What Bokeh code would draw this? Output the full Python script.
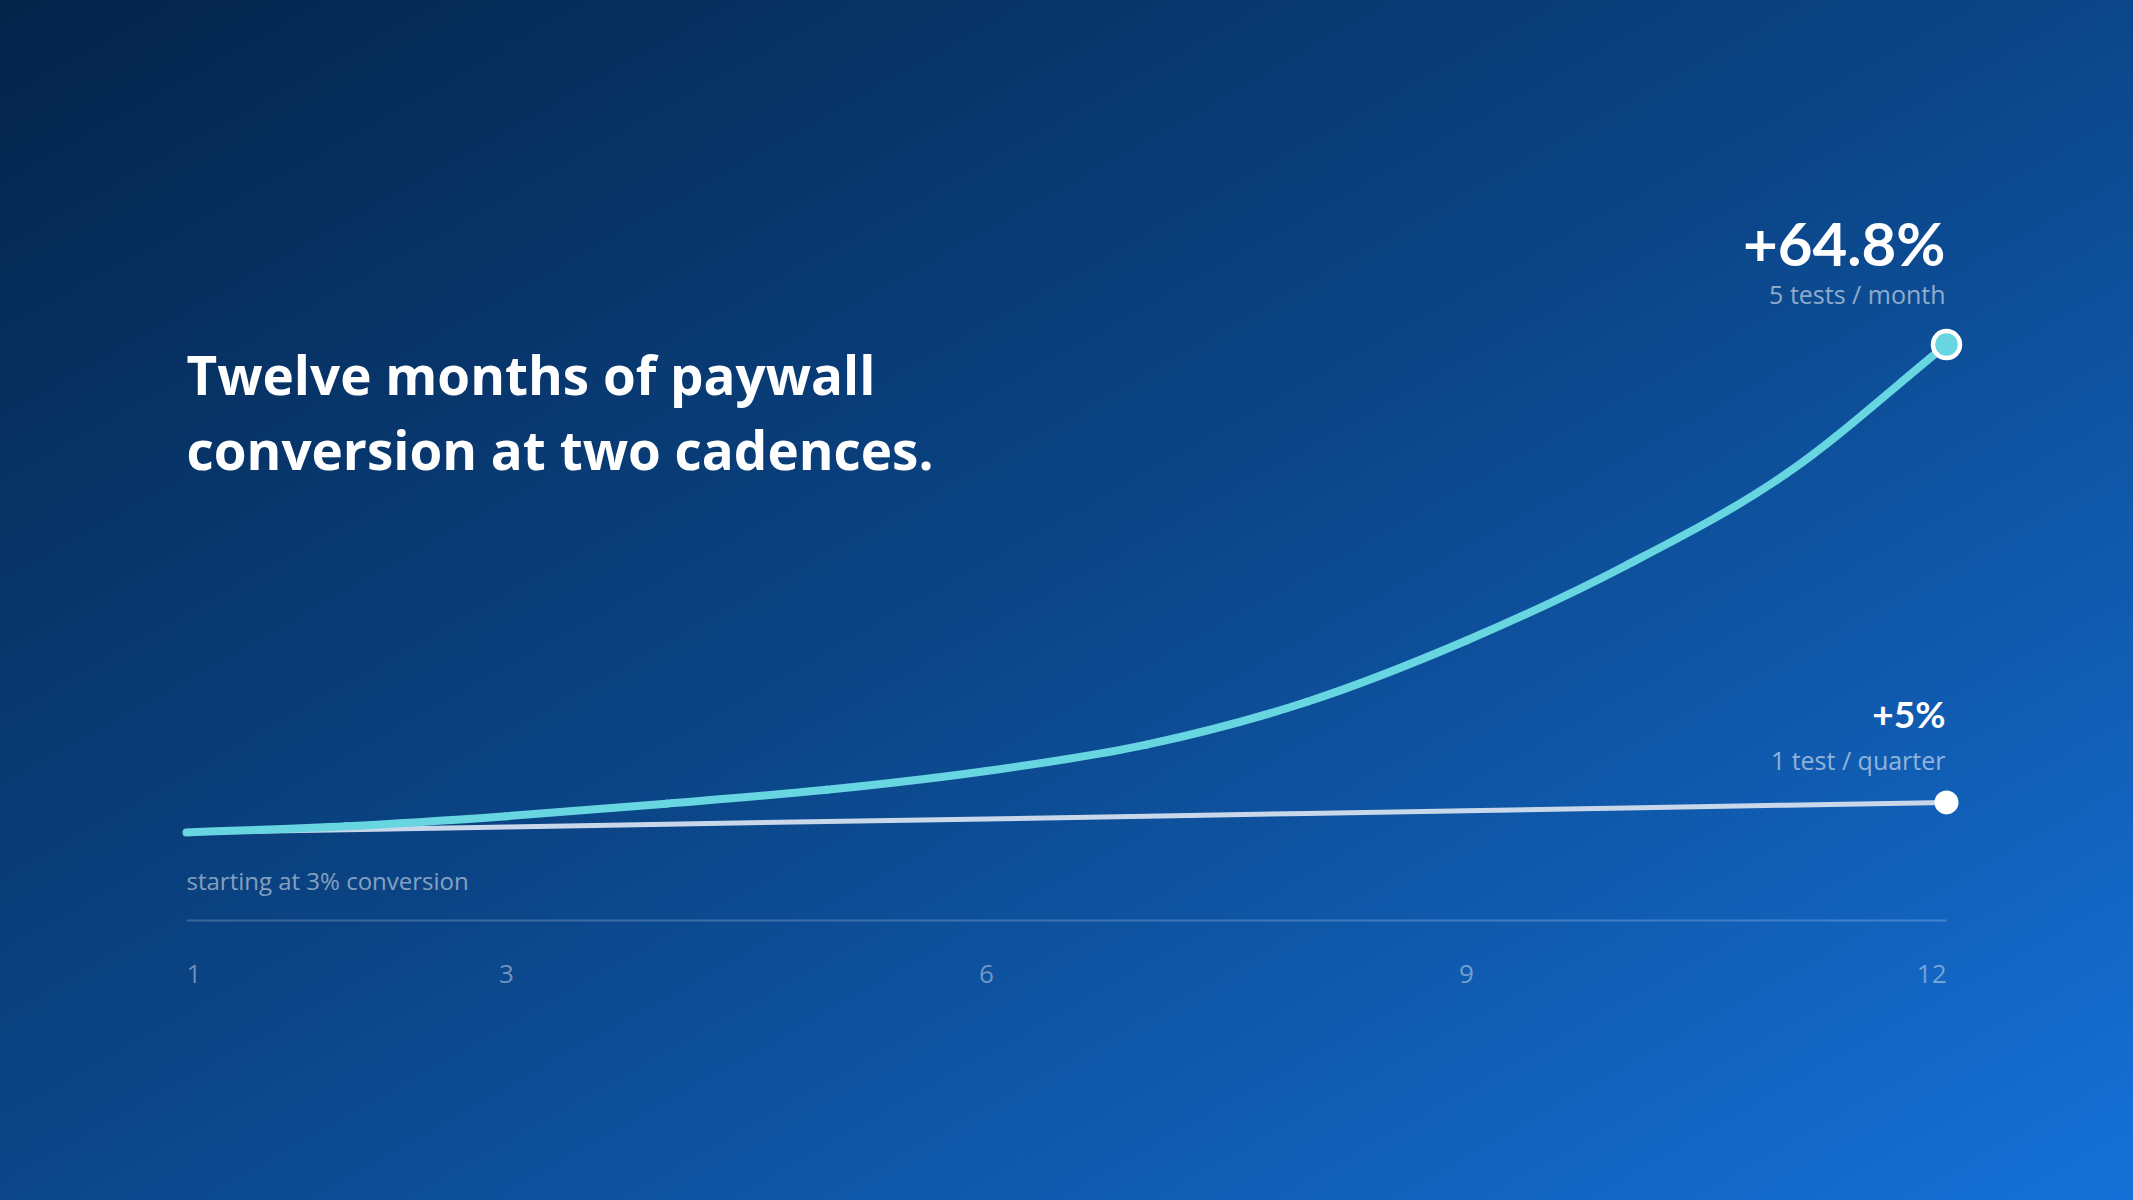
from bokeh.plotting import figure
from bokeh.models import Range1d, Label, BoxAnnotation
from bokeh.embed import file_html
from bokeh.resources import INLINE

# ---- data ----
months = [1, 2, 3, 4, 5, 6, 7, 8, 9, 10, 11, 12]
fast_conv = [3.00, 3.025, 3.065, 3.115, 3.17, 3.245, 3.35, 3.52, 3.765, 4.065, 4.43, 4.944]   # 5 tests / month
slow_conv = [3.000, 3.011, 3.022, 3.033, 3.044, 3.054, 3.065, 3.076, 3.087, 3.098, 3.109, 3.120]  # 1 test / quarter
tick_months = [1, 3, 6, 9, 12]
tick_labels = ["1", "3", "6", "9", "12"]
title_lines = ["Twelve months of paywall", "conversion at two cadences."]
fast_lift = "+64.8%"
fast_name = "5 tests / month"
slow_lift = "+5%"
slow_name = "1 test / quarter"
start_note = "starting at 3% conversion"

# ---- layout ----
W, H = 2133, 1200
X0_PX, PX_PER_MONTH = 186, 160
Y0_PX, PX_PER_PT = 832, 251

x_range = Range1d(1 - X0_PX / PX_PER_MONTH, 1 + (W - X0_PX) / PX_PER_MONTH)
y_range = Range1d(3 - (H - Y0_PX) / PX_PER_PT, 3 + Y0_PX / PX_PER_PT)

p = figure(width=W, height=H, x_range=x_range, y_range=y_range,
           output_backend="svg", toolbar_location=None, min_border=0)
p.axis.visible = False
p.grid.visible = False
p.outline_line_color = None
p.background_fill_alpha = 0
p.border_fill_alpha = 0

NUM_FONT = "Lato"
TXT_FONT = "Open Sans"
CYAN = "#68d6e1"
SLOW = "#c9d7ea"

def sy(y_page):
    # screen y (from bottom of canvas) for a page pixel row
    return H - y_page

# baseline rule
p.add_layout(BoxAnnotation(left=months[0], right=months[-1], bottom=sy(921), top=sy(919),
                           bottom_units="screen", top_units="screen",
                           fill_color="white", fill_alpha=0.2, line_color=None))

# slow line
p.line(months, slow_conv, line_color=SLOW, line_width=5, line_cap="round", line_join="round")

# fast line: smooth curve through the monthly values (Catmull-Rom as cubic Beziers)
n = len(months)
px = [2 * months[0] - months[1]] + months + [2 * months[-1] - months[-2]]
py = [2 * fast_conv[0] - fast_conv[1]] + fast_conv + [2 * fast_conv[-1] - fast_conv[-2]]
x0, y0, x1, y1, cx0, cy0, cx1, cy1 = ([] for _ in range(8))
for i in range(1, n):
    x0.append(px[i]); y0.append(py[i])
    x1.append(px[i + 1]); y1.append(py[i + 1])
    cx0.append(px[i] + (px[i + 1] - px[i - 1]) / 6)
    cy0.append(py[i] + (py[i + 1] - py[i - 1]) / 6)
    cx1.append(px[i + 1] - (px[i + 2] - px[i]) / 6)
    cy1.append(py[i + 1] - (py[i + 2] - py[i]) / 6)
p.bezier(x0=x0, y0=y0, x1=x1, y1=y1, cx0=cx0, cy0=cy0, cx1=cx1, cy1=cy1,
         line_color=CYAN, line_width=8, line_cap="round")

# end dots
p.scatter([months[-1]], [slow_conv[-1]], size=24, fill_color="white", line_color=None)
p.scatter([months[-1]], [fast_conv[-1]], size=27, fill_color=CYAN, line_color="white", line_width=4.5)

# title
for i, t in enumerate(title_lines):
    p.add_layout(Label(x=X0_PX, y=sy(374 + 75 * i), x_units="screen", y_units="screen",
                       text=t, text_font=TXT_FONT, text_font_style="bold", text_font_size="53px",
                       text_color="white", text_align="left", text_baseline="alphabetic"))

# end labels
def end_label(text, y_page, size, font, bold, alpha=1.0):
    p.add_layout(Label(x=months[-1], x_offset=-1, y=sy(y_page), y_units="screen",
                       text=text, text_font=font, text_font_style="bold" if bold else "normal",
                       text_font_size=size, text_color="white", text_alpha=alpha,
                       text_align="right", text_baseline="alphabetic"))

end_label(fast_lift, 242, "60px", NUM_FONT, True)
end_label(fast_name, 293, "25px", TXT_FONT, False, 0.55)
end_label(slow_lift, 713, "37px", NUM_FONT, True)
end_label(slow_name, 759, "25px", TXT_FONT, False, 0.55)

# start note
p.add_layout(Label(x=months[0], y=sy(880), y_units="screen", text=start_note,
                   text_font=TXT_FONT, text_font_size="24px", text_color="white", text_alpha=0.5,
                   text_align="left", text_baseline="alphabetic"))

# tick labels
for i, (m, lab) in enumerate(zip(tick_months, tick_labels)):
    align = "left" if i == 0 else ("right" if i == len(tick_months) - 1 else "center")
    p.add_layout(Label(x=m, y=sy(973), y_units="screen", text=lab,
                       text_font=TXT_FONT, text_font_size="26px", text_color="white", text_alpha=0.42,
                       text_align=align, text_baseline="alphabetic"))

html = file_html(p, INLINE)
css = ("<style>html{min-height:100%;background:linear-gradient(to bottom right,"
       "#04244a 0%,#0b4689 50%,#1571d8 100%) fixed;}body{background:transparent;}</style>")
html = html.replace("</head>", css + "</head>", 1)
open("out.html", "w").write(html)
